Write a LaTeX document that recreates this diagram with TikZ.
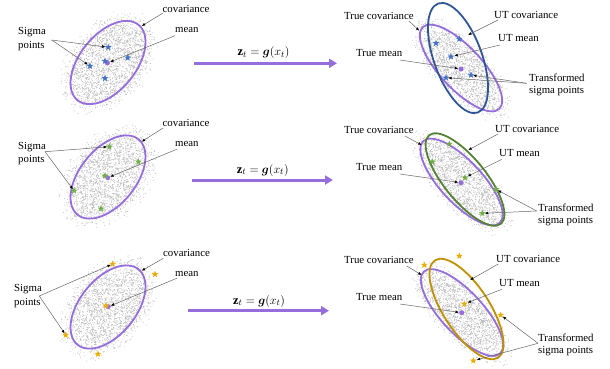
\documentclass[tikz,border=0pt]{standalone}
\usepackage{amsmath}
\usepackage{fontspec}
\setmainfont{Liberation Serif}
\usetikzlibrary{shapes.geometric,arrows.meta}
\definecolor{mpurple}{HTML}{966EDC}
\definecolor{utblue}{HTML}{2F5597}
\definecolor{starblue}{HTML}{4472C4}
\definecolor{utgreen}{HTML}{548235}
\definecolor{stargreen}{HTML}{70AD47}
\definecolor{utgold}{HTML}{BF9000}
\definecolor{stargold}{HTML}{EBAE00}
\tikzset{
 lbl/.style={font=\fontsize{10.8}{12}\selectfont, inner sep=0, anchor=west},
 sigmalbl/.style={lbl, align=left, font=\fontsize{10.8}{13.7}\selectfont},
 translbl/.style={lbl, align=left, font=\fontsize{10.8}{12}\selectfont},
 ann/.style={draw=black!60, line width=0.5pt, -{Latex[length=3.5pt,width=2.8pt,black]}},
 sstar/.style={star, star points=5, star point ratio=2.3, minimum size=7pt, inner sep=0, draw=none, fill=#1},
 meandot/.style={circle, fill=mpurple, minimum size=5pt, inner sep=0},
 covell/.style={draw=#1, line width=1.8pt},
 bigarrow/.style={draw=mpurple, line width=3pt, -{Triangle[length=8pt,width=9pt]}},
 clouddot/.style={fill=black!26},
 mathlbl/.style={font=\fontsize{12.5}{14}\selectfont, inner sep=0},
}
\newcommand\mycloud[6]{%
 \fill[clouddot, shift={(#1,#2)}, rotate=#3]
   foreach \i [evaluate=\i as \crad using sqrt(rnd)*(0.78+0.45*rnd), evaluate=\i as \cang using 360*rnd] in {1,...,#6}
   { ({#4*\crad*cos(\cang)},{#5*\crad*sin(\cang)}) rectangle ++(0.65,0.65) };}
\begin{document}
\begin{tikzpicture}[x=1pt,y=-1pt]
\useasboundingbox (0,0) rectangle (610,368);
\pgfmathsetseed{7}
% ---------- clouds ----------
\mycloud{108}{62.5}{50}{51}{34}{2300}
\mycloud{108}{177}{50}{51}{34}{2300}
\mycloud{108}{307}{50}{51}{34}{2300}
\mycloud{461}{68}{-47}{57}{23}{1900}
\mycloud{461.5}{182}{-47}{57}{23}{1900}
\mycloud{462}{312.5}{-47}{57}{23}{1900}
% ---------- covariance ellipses ----------
\draw[covell=mpurple, rotate around={51:(108,62.5)}] (108,62.5) ellipse[x radius=48.5, y radius=28];
\draw[covell=mpurple, rotate around={51:(108,177)}] (108,177) ellipse[x radius=48.5, y radius=28];
\draw[covell=mpurple, rotate around={51:(108,307)}] (108,307) ellipse[x radius=48.5, y radius=28];
\draw[covell=mpurple, rotate around={-47:(461,68)}] (461,68) ellipse[x radius=56, y radius=21];
\draw[covell=mpurple, rotate around={-47:(461.5,182)}] (461.5,182) ellipse[x radius=56, y radius=21];
\draw[covell=mpurple, rotate around={-47:(462,312.5)}] (462,312.5) ellipse[x radius=56, y radius=21];
\draw[covell=utblue, rotate around={-70:(458,58)}] (458,58) ellipse[x radius=58, y radius=24];
\draw[covell=utgreen, rotate around={-51:(465,179.5)}] (465,179.5) ellipse[x radius=57, y radius=21];
\draw[covell=utgold, rotate around={-57:(466.5,309)}] (466.5,309) ellipse[x radius=58, y radius=23];
% ---------- points ----------
\node[meandot] (m1) at (107.5,63) {};
\node[meandot] (m2) at (107.7,177.7) {};
\node[meandot] (m3) at (108.3,306.7) {};
\node[meandot] (tmd1) at (461,69) {};
\node[meandot] (tmd2) at (461,182.7) {};
\node[meandot] (tmd3) at (461.7,312.7) {};
\node[sstar=starblue] (s11) at (108.3,47.3) {};
\node[sstar=starblue] (s12) at (90,66) {};
\node[sstar=starblue] (s13) at (105,61) {};
\node[sstar=starblue] (s14) at (127.7,57.7) {};
\node[sstar=starblue] (s15) at (105,78.3) {};
\node[sstar=starblue] (r11) at (436,43.3) {};
\node[sstar=starblue] (r12) at (459.3,39) {};
\node[sstar=starblue] (r13) at (451,56.7) {};
\node[sstar=starblue] (r14) at (471,75) {};
\node[sstar=starblue] (r15) at (446,77.7) {};
\node[sstar=stargreen] (s21) at (109.3,146.7) {};
\node[sstar=stargreen] (s22) at (138.3,161.7) {};
\node[sstar=stargreen] (s23) at (105,175.7) {};
\node[sstar=stargreen] (s24) at (74,190.7) {};
\node[sstar=stargreen] (s25) at (101,208.7) {};
\node[sstar=stargreen] (r21) at (449.3,144) {};
\node[sstar=stargreen] (r22) at (432.3,161.7) {};
\node[sstar=stargreen] (r23) at (465,177.7) {};
\node[sstar=stargreen] (r24) at (496,189.3) {};
\node[sstar=stargreen] (r25) at (482.3,213.3) {};
\node[sstar=stargold] (s31) at (112.7,264) {};
\node[sstar=stargold] (s32) at (155,274.3) {};
\node[sstar=stargold] (s33) at (106,305.7) {};
\node[sstar=stargold] (s34) at (65.7,335) {};
\node[sstar=stargold] (s35) at (98,354) {};
\node[sstar=stargold] (r31) at (424.3,265) {};
\node[sstar=stargold] (r32) at (459.3,256) {};
\node[sstar=stargold] (r33) at (464.3,304) {};
\node[sstar=stargold] (r34) at (500.7,315) {};
\node[sstar=stargold] (r35) at (473.3,360.7) {};
% ---------- labels ----------
\node[sigmalbl] (sp1) at (18,39) {Sigma\\points};
\node[lbl] (cov1) at (162.5,8.5) {covariance};
\node[lbl] (mean1) at (175,30) {mean};
\node[lbl] (tc1) at (344,15.7) {True covariance};
\node[lbl] (uc1) at (494,15) {UT covariance};
\node[lbl] (um1) at (498,38.3) {UT mean};
\node[lbl] (tm1) at (356,53.3) {True mean};
\node[translbl] (tr1) at (529,85) {Transformed\\sigma points};
\node[sigmalbl] (sp2) at (18,153.7) {Sigma\\points};
\node[lbl] (cov2) at (162.5,123.3) {covariance};
\node[lbl] (mean2) at (175,144.3) {mean};
\node[lbl] (tc2) at (344,130) {True covariance};
\node[lbl] (uc2) at (495,129) {UT covariance};
\node[lbl] (um2) at (499,153.3) {UT mean};
\node[lbl] (tm2) at (356,167.3) {True mean};
\node[translbl] (tr2) at (538,215) {Transformed\\sigma points};
\node[sigmalbl] (sp3) at (14,296) {Sigma\\points};
\node[lbl] (cov3) at (163,253.3) {covariance};
\node[lbl] (mean3) at (175,274) {mean};
\node[lbl] (tc3) at (344,260) {True covariance};
\node[lbl] (uc3) at (496,259) {UT covariance};
\node[lbl] (um3) at (499,283.3) {UT mean};
\node[lbl] (tm3) at (356,297.3) {True mean};
\node[translbl] (tr3) at (538,345) {Transformed\\sigma points};
% ---------- annotation origins / tips ----------
\coordinate (sp1o) at (51.7,40);
\coordinate (cov1o) at (163,13);   \coordinate (cov1t) at (141.7,26);
\coordinate (mean1o) at (175,35.7);
\coordinate (tc1o) at (409,21);    \coordinate (tc1t) at (419.3,30.7);
\coordinate (uc1o) at (498,20);    \coordinate (uc1t) at (468,35);
\coordinate (um1o) at (500,45);
\coordinate (tm1o) at (400,60);
\coordinate (tr1o) at (526.7,83.3);
\coordinate (sp2o) at (45,151.7);
\coordinate (cov2o) at (163,128);  \coordinate (cov2t) at (141.7,141.7);
\coordinate (mean2o) at (176.7,149.3);
\coordinate (tc2o) at (405,136);   \coordinate (tc2t) at (421.7,145);
\coordinate (uc2o) at (498,134);   \coordinate (uc2t) at (468.3,150);
\coordinate (um2o) at (501.7,159.3);
\coordinate (tm2o) at (400,174);
\coordinate (tr2o) at (536.7,211);
\coordinate (sp3o) at (39.3,296);
\coordinate (cov3o) at (163.3,258.3); \coordinate (cov3t) at (141.7,270.7);
\coordinate (mean3o) at (176.7,278.3);
\coordinate (tc3o) at (406.7,266); \coordinate (tc3t) at (421.7,275);
\coordinate (uc3o) at (498.3,264); \coordinate (uc3t) at (470,280);
\coordinate (um3o) at (501.7,289.3);
\coordinate (tm3o) at (400,304);
\coordinate (tr3o) at (538,343.3);
% ---------- annotation lines ----------
\draw[ann] (sp1o) -- (s11);
\draw[ann] (sp1o) -- (s12);
\draw[ann] (cov1o) -- (cov1t);
\draw[ann] (mean1o) -- (m1);
\draw[ann] (tc1o) -- (tc1t);
\draw[ann] (uc1o) -- (uc1t);
\draw[ann] (um1o) -- (r13);
\draw[ann] (tm1o) -- (tmd1);
\draw[ann] (tr1o) -- (r14);
\draw[ann] (tr1o) -- (r15);
\draw[ann] (sp2o) -- (s21);
\draw[ann] (sp2o) -- (s24);
\draw[ann] (cov2o) -- (cov2t);
\draw[ann] (mean2o) -- (m2);
\draw[ann] (tc2o) -- (tc2t);
\draw[ann] (uc2o) -- (uc2t);
\draw[ann] (um2o) -- (r23);
\draw[ann] (tm2o) -- (tmd2);
\draw[ann] (tr2o) -- (r24);
\draw[ann] (tr2o) -- (r25);
\draw[ann] (sp3o) -- (s31);
\draw[ann] (sp3o) -- (s34);
\draw[ann] (cov3o) -- (cov3t);
\draw[ann] (mean3o) -- (m3);
\draw[ann] (tc3o) -- (tc3t);
\draw[ann] (uc3o) -- (uc3t);
\draw[ann] (um3o) -- (r33);
\draw[ann] (tm3o) -- (tmd3);
\draw[ann] (tr3o) -- (r34);
\draw[ann] (tr3o) -- (r35);
% ---------- transformation arrows ----------
\coordinate (a1s) at (194,63.3);   \coordinate (a1e) at (337,63.3);
\coordinate (a2s) at (191.7,180);  \coordinate (a2e) at (333,180);
\coordinate (a3s) at (188,310.7);  \coordinate (a3e) at (329,310.7);
\draw[bigarrow] (a1s) -- (a1e);
\draw[bigarrow] (a2s) -- (a2e);
\draw[bigarrow] (a3s) -- (a3e);
\node[mathlbl] (f1) at (263.5,52.5) {$\mathbf{z}_t = \boldsymbol{g}(x_t)$};
\node[mathlbl] (f2) at (262.7,170) {$\mathbf{z}_t = \boldsymbol{g}(x_t)$};
\node[mathlbl] (f3) at (259,301) {$\mathbf{z}_t = \boldsymbol{g}(x_t)$};
\end{tikzpicture}
\end{document}
